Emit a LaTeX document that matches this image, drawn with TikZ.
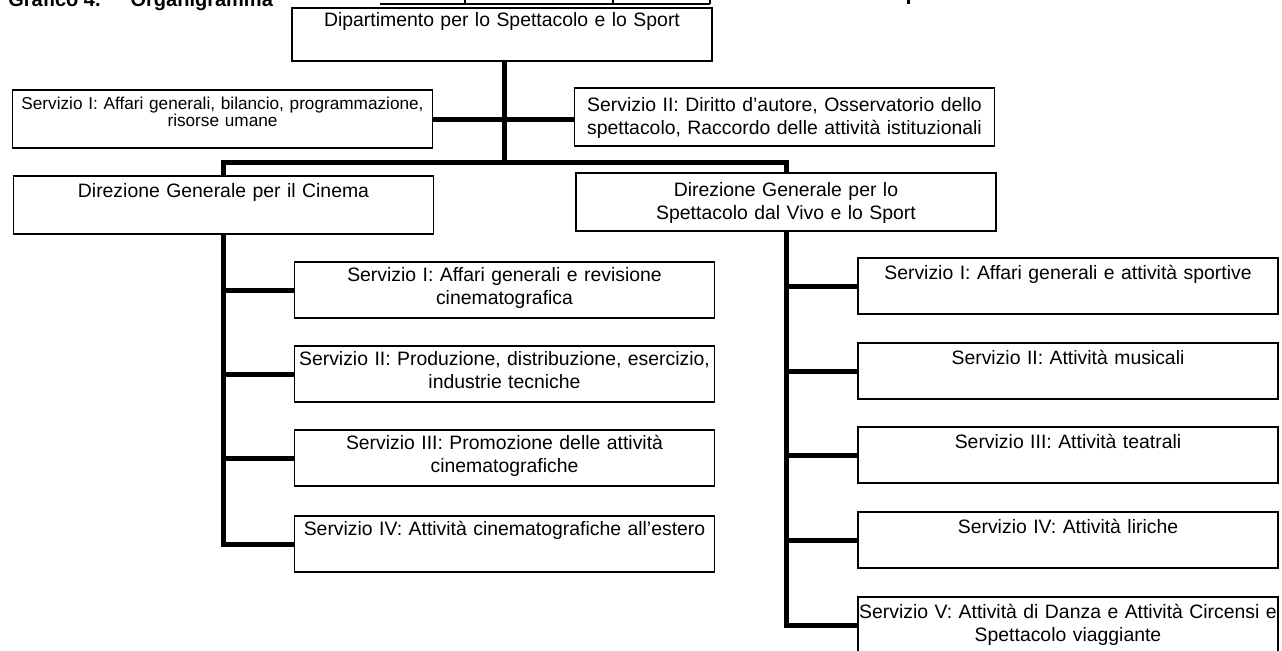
\documentclass[tikz,border=0pt]{standalone}
\usepackage{fontspec}
\setmainfont{Liberation Sans}
\begin{document}
\begin{tikzpicture}[box/.style={draw,line width=.8pt,text width=210pt,align=center,inner sep=0pt,text height=9.5pt,text depth=18.5pt,font=\fontsize{9.7}{11.8}\selectfont},
  boxv/.style={box,text height=10.5pt,text depth=17.5pt},
  wire/.style={line width=2.5pt},
  x=.5pt,y=-.5pt]
\useasboundingbox (0,0) rectangle (1282,650);
\clip (0,0) rectangle (1282,650);

% titolo e tabella sopra, tagliati dal bordo
\node[anchor=base west,inner sep=0pt,font=\bfseries\fontsize{10}{12}\selectfont] (titolo) at (8,6) {Grafico 4.\hspace{15pt}Organigramma};
\draw[line width=.7pt] (380,4) -- (710,4);
\draw[line width=.7pt] (465,0) -- (465,4);
\draw[line width=.7pt] (613,0) -- (613,4);
\draw[line width=.7pt] (710,0) -- (710,4);
\draw[line width=1.5pt] (908,0) -- (908,4);

% dipartimento
\node[box,text height=9pt,text depth=17.5pt] (dip) at (502,34.5) {Dipartimento per lo Spettacolo e lo Sport};

\node[box,text height=9.5pt,text depth=19.5pt,font=\fontsize{8.6}{8.8}\selectfont] (sg1) at (222.5,119) {Servizio I: Affari generali, bilancio, programmazione,\\risorse umane};
\node[box,text height=11.5pt,text depth=17.5pt] (sg2) at (784.5,117) {Servizio II: Diritto d'autore, Osservatorio dello\\spettacolo, Raccordo delle attività istituzionali};

% direzioni generali
\node[box,text height=10.5pt,text depth=18.5pt] (dgc) at (223.5,205) {Direzione Generale per il Cinema};
\node[box,text height=11.5pt,text depth=17.5pt] (dgv) at (786,202) {Direzione Generale per lo\\Spettacolo dal Vivo e lo Sport};

% servizi cinema
\node[box] (c1) at (504.5,290) {Servizio I: Affari generali e revisione\\cinematografica};
\node[box] (c2) at (504.5,374) {Servizio II: Produzione, distribuzione, esercizio,\\industrie tecniche};
\node[box] (c3) at (504.5,458) {Servizio III: Promozione delle attività\\cinematografiche};
\node[box] (c4) at (504.5,544) {Servizio IV: Attività cinematografiche all'estero};

% servizi spettacolo dal vivo e sport
\node[boxv] (v1) at (1068,286) {Servizio I: Affari generali e attività sportive};
\node[boxv] (v2) at (1068,371) {Servizio II: Attività musicali};
\node[boxv] (v3) at (1068,455) {Servizio III: Attività teatrali};
\node[boxv] (v4) at (1068,540) {Servizio IV: Attività liriche};
\node[boxv] (v5) at (1068,625) {Servizio V: Attività di Danza e Attività Circensi e\\Spettacolo viaggiante};

\coordinate (bus) at (504,162);
\draw[wire] (dip.south -| bus) -- (bus);
\draw[wire] (dgc.north) |- (bus) -| (dgv.north);
\draw[wire] (sg1.east) -- (sg1.east -| sg2.west);

\draw[wire] (dgc.south) |- (c4.west);
\draw[wire] (dgc.south |- c1.west) -- (c1.west);
\draw[wire] (dgc.south |- c2.west) -- (c2.west);
\draw[wire] (dgc.south |- c3.west) -- (c3.west);

\draw[wire] (dgv.south) |- (v5.west);
\draw[wire] (dgv.south |- v1.west) -- (v1.west);
\draw[wire] (dgv.south |- v2.west) -- (v2.west);
\draw[wire] (dgv.south |- v3.west) -- (v3.west);
\draw[wire] (dgv.south |- v4.west) -- (v4.west);

\end{tikzpicture}
\end{document}
